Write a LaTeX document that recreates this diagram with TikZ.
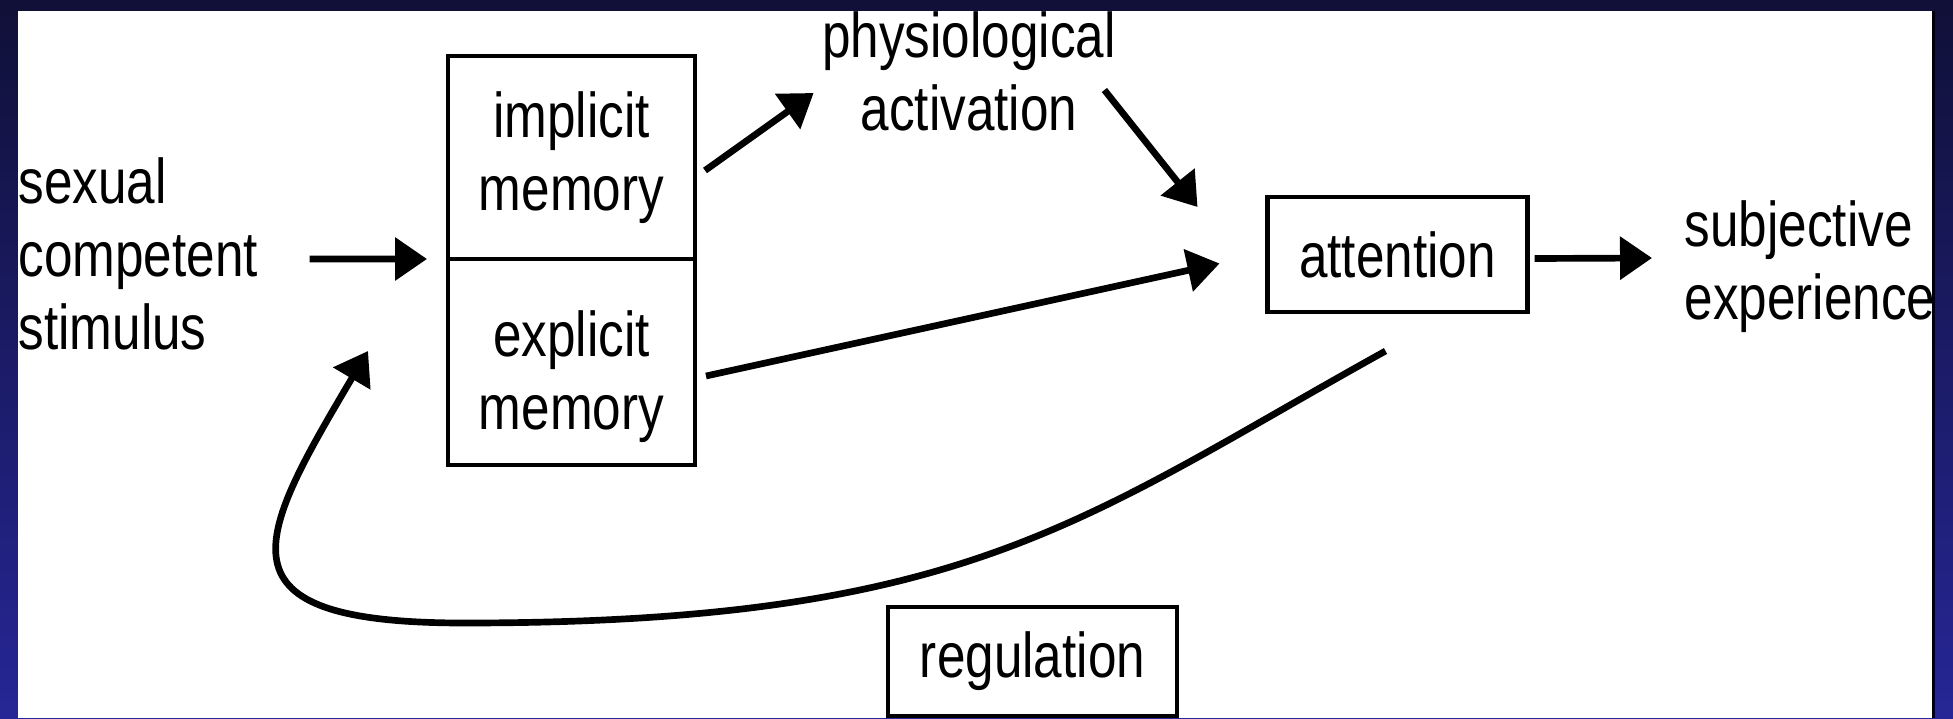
\documentclass[tikz,border=0pt]{standalone}
\usepackage{fontspec}
\setmainfont{Liberation Sans}[FakeStretch=0.81]
\usepackage{tikz}
\usetikzlibrary{arrows.meta}
\definecolor{navytop}{RGB}{16,16,56}
\definecolor{navybot}{RGB}{38,38,150}

\begin{document}
\begin{tikzpicture}[x=0.1mm,y=-0.1mm,>={Triangle[length=3.2mm,width=4.2mm]},
	font=\fontsize{18pt}{20.8pt}\selectfont,
	box/.style={draw,line width=1.3pt,outer sep=0pt,align=center},
	txt/.style={inner sep=0pt},
	link/.style={->,line width=1.9pt}]
	\useasboundingbox (0,0) rectangle (1953,718);
	% slide frame
	\shade[top color=navytop,bottom color=navybot] (0,0) rectangle (1953,718);
	\fill[white] (18,11) rectangle (1934,718);

	\node [txt, align=left, anchor=west]	(stimulus)	at (18,254)		{sexual\\competent\\stimulus};
	\node [box, minimum width=2.47cm, minimum height=2.03cm]	(implicit)	at (571.5,157.5)	{implicit\\memory};
	\node [box, minimum width=2.47cm, minimum height=2.06cm, text height=14.9mm]	(explicit)	at (571.5,362)	{explicit\\memory};
	\node [txt, align=center]	(physio)	at (969,71)		{physiological\\activation};
	\node [box, minimum width=2.6cm, minimum height=1.15cm]	(attention)	at (1397.5,254.5)	{attention};
	\node [txt, align=left, anchor=west]	(subjective)	at (1684,267)	{subjective\\experience};
	\node [box, minimum width=2.89cm, minimum height=1.09cm]	(regulation)	at (1032.5,661.5)	{regulation};

	\path[link]
		([shift={(51,5)}]stimulus.east)		edge	([shift={(-21,0)}]implicit.south west)
		([shift={(10,13)}]implicit.east)		edge	([shift={(-8,22)}]physio.west)
		([shift={(-12,19)}]physio.east)		edge	([shift={(-70,10)}]attention.north west)
		([shift={(11,14)}]explicit.east)		edge	([shift={(-48,9)}]attention.west)
		([shift={(7,4)}]attention.east)		edge	([shift={(-32,-9)}]subjective.west)
	;

	% feedback loop
	\coordinate (fbstart) at ([shift={(-12,39)}]attention.south);
	\coordinate (fbend) at ([shift={(-80,-11)}]explicit.west);
	\draw[link] (fbstart) .. controls (1081,520) and (969,623) .. (464,623)
		.. controls (210,623) and (256,540) .. (fbend);

	% right edge of the slide
	\shade[top color=navytop,bottom color=navybot] (1934,0) rectangle (1953,718);
	\draw[line width=0.3mm] (1933,11) -- (1933,718);
\end{tikzpicture}
\end{document}
